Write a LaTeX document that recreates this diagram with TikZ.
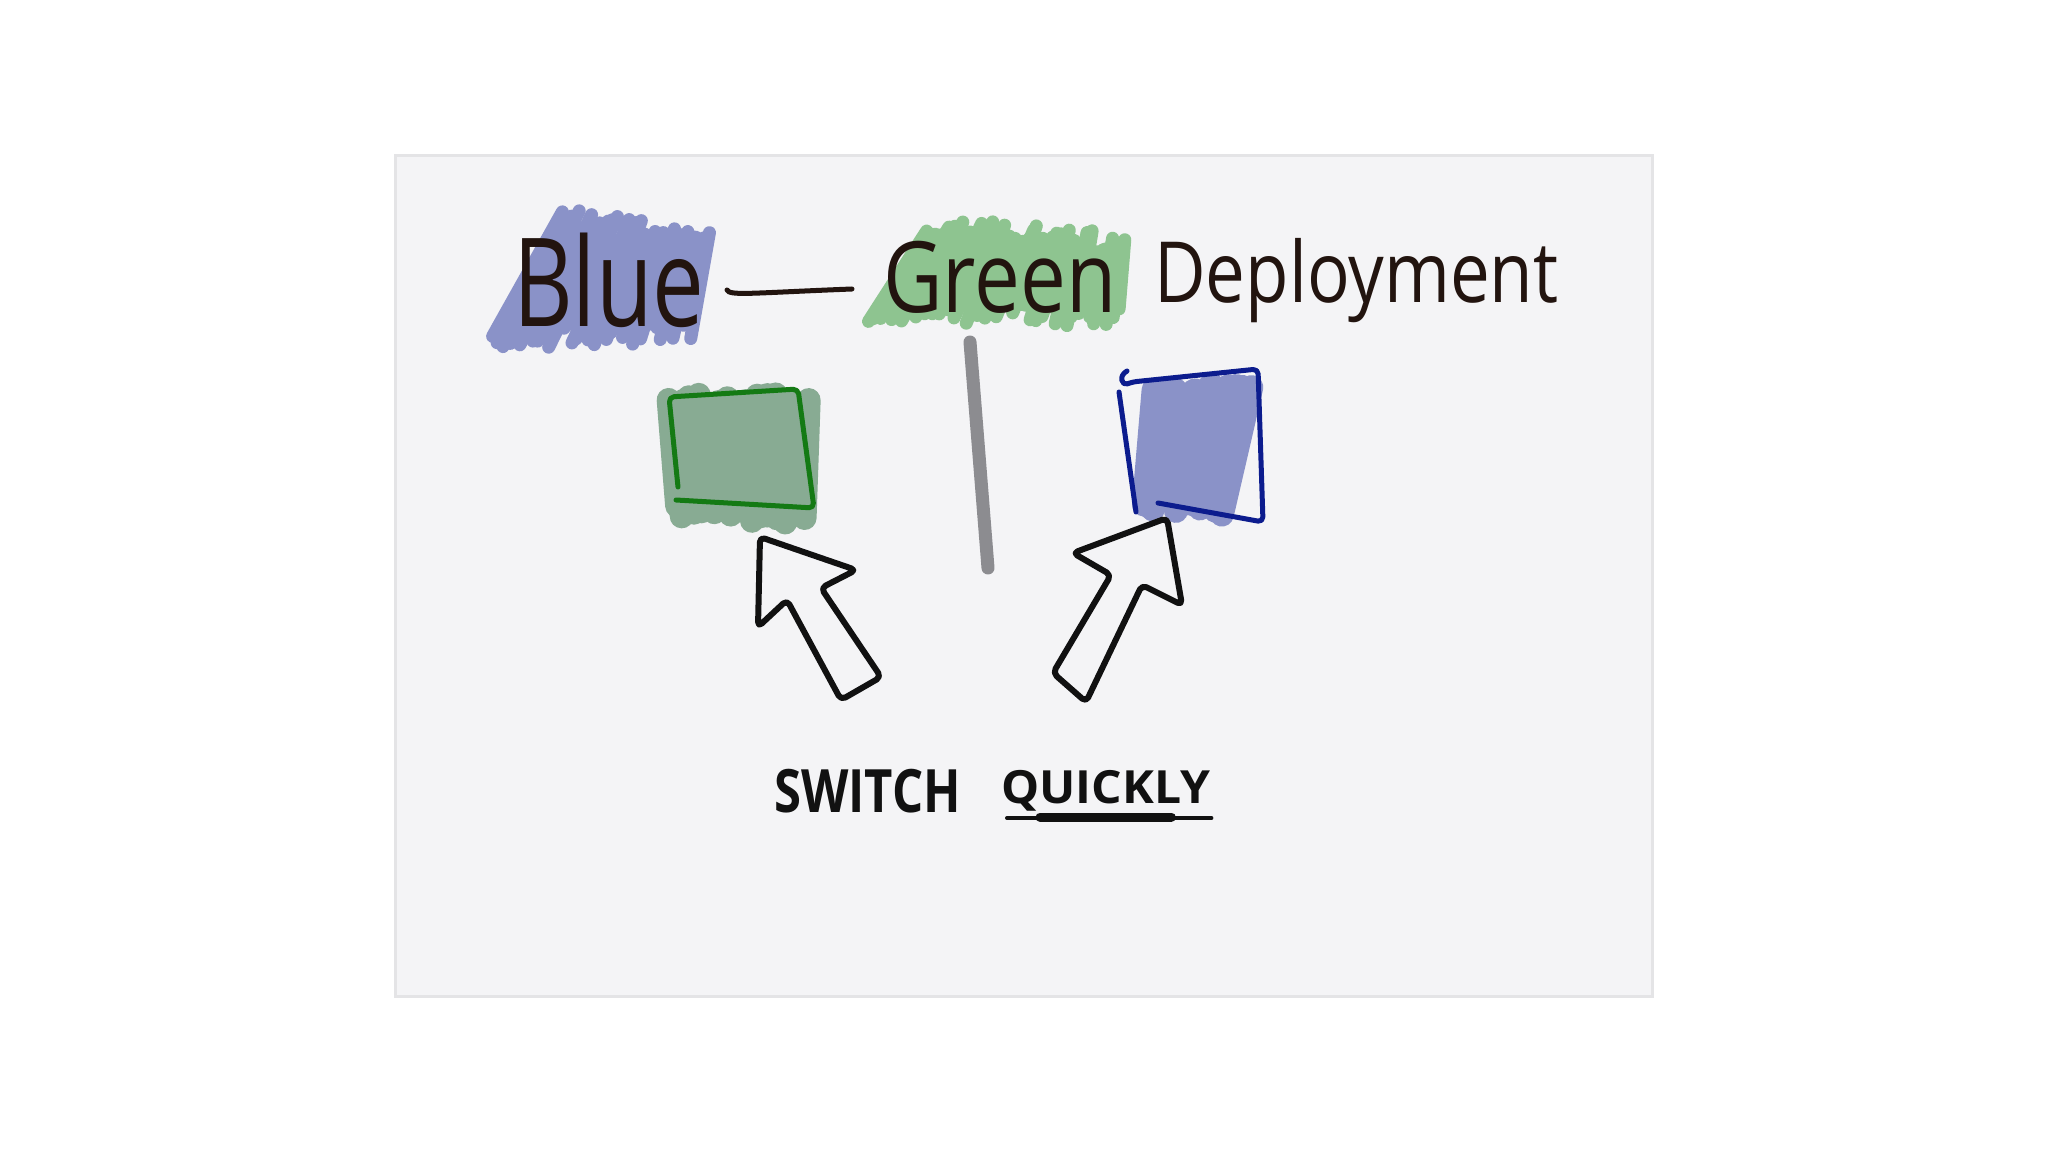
\documentclass[tikz,border=0pt]{standalone}
\usepackage{fontspec}
\setmainfont{Open Sans}
\usetikzlibrary{calc}
\usetikzlibrary{positioning}

\definecolor{panel}{HTML}{F4F4F6}
\definecolor{panelline}{HTML}{E4E4E6}
\definecolor{ink}{HTML}{22140F}
\definecolor{marker}{HTML}{111111}
\definecolor{bluescrib}{HTML}{8A92C8}
\definecolor{greenscrib}{HTML}{8EC490}
\definecolor{boxgreen}{HTML}{88AB93}
\definecolor{boxgreenline}{HTML}{147A14}
\definecolor{boxblueline}{HTML}{0C1C8E}
\definecolor{divider}{HTML}{8C8C90}

\begin{document}
\begin{tikzpicture}
		[x=0.01cm, y=-0.01cm, thick,
		scribble/.style={line width=0.13cm, line cap=round},
		outline/.style={line width=0.05cm, line cap=round, line join=round, rounded corners=0.05cm},
		hand/.style={anchor=base west, inner sep=0pt, text=ink}]
		\useasboundingbox (0,0) rectangle (2048,1152);
		\fill[white] (0,0) rectangle (2048,1152);
		\draw[panelline, fill=panel, line width=0.03cm] (395,156) rectangle (1652,996);
		\pgfmathsetseed{11}
		\fill[bluescrib] (500,332) -- (568,228) -- (704,248) -- (690,328) -- cycle;
		\foreach \i in {0,...,35} {
			\pgfmathsetmacro\t{\i/35}
			\draw[scribble, bluescrib] ({492+198*\t+rand*1.5},{340-10*\t+rand*12}) -- ({562+146*\t+rand*1.5},{218+26*\t+rand*12});
		}
		\fill[greenscrib] (876,306) -- (934,236) -- (1120,248) -- (1112,314) -- cycle;
		\foreach \i in {0,...,43} {
			\pgfmathsetmacro\t{\i/43}
			\draw[scribble, greenscrib] ({868+250*\t+rand*1.5},{312+6*\t+rand*12}) -- ({927+198*\t+rand*1.5},{228+16*\t+rand*12});
		}
		\foreach \i in {0,...,14} {
			\pgfmathsetmacro\t{\i/14}
			\draw[line width=0.24cm, line cap=round, boxgreen] ({672+130*\t+rnd*6},{505+8*\t+rnd*12}) -- ({668+135*\t+rnd*6},{394+rnd*12});
		}
		\foreach \i in {0,...,13} {
			\pgfmathsetmacro\t{\i/13}
			\draw[line width=0.24cm, line cap=round, bluescrib] ({1140+80*\t+rnd*6},{498+6*\t+rnd*12}) -- ({1150+98*\t+rnd*6},{388-8*\t+rnd*12});
		}
		\coordinate (dashl) at (727,290);
		\coordinate (dashr) at (852,289);
		\coordinate (divtop) at (970,342);
		\coordinate (divbot) at (988,568);
		\draw (512,327) node[hand, xscale=0.75, font=\fontsize{35}{40}\selectfont] (blue) {Blue};
		\draw (882,313) node[hand, xscale=0.83, font=\fontsize{28}{32}\selectfont] (green) {Green};
		\draw (1153,303) node[hand, xscale=0.84, font=\fontsize{24}{28}\selectfont] (deploy) {Deployment};
		\draw[ink, line width=0.05cm, line cap=round] (dashl) .. controls (730,296) and (750,293) .. (dashr);
		\draw[outline, boxgreenline] (678,487) -- (669,397) -- (798,389) -- (814,508) -- (676,500);
		\draw[outline, boxblueline] (1127,371) .. controls (1118,376) and (1122,386) .. (1132,382) -- (1258,369) -- (1263,522) -- (1158,503);
		\draw[outline, boxblueline] (1119,392) -- (1136,512);
		\draw[divider, line width=0.13cm, line cap=round] (divtop) -- (divbot);
		\draw[outline, marker, line width=0.06cm] (760,537) -- (856,570) -- (821,588) -- (881,677) -- (841,700) -- (787,600) -- (758,627) -- cycle;
		\draw[outline, marker, line width=0.06cm] (1167,518) -- (1182,605) -- (1142,585) -- (1086,702) -- (1053,673) -- (1111,575) -- (1073,553) -- cycle;
		\draw (773,812) node[hand, text=marker, xscale=0.82, font=\bfseries\fontsize{17}{20}\selectfont] (switch) {SWITCH};
		\draw (1000,803) node[hand, text=marker, xscale=1.05, font=\bfseries\fontsize{13}{16}\selectfont] (quickly) {QUICKLY};
		\draw[marker, line width=0.04cm, line cap=round] ([xshift=0.07cm, yshift=-0.15cm]quickly.base west) -- ([yshift=-0.15cm]quickly.base east);
		\draw[marker, line width=0.09cm, line cap=round] ([xshift=0.4cm, yshift=-0.14cm]quickly.base west) -- ([xshift=-0.4cm, yshift=-0.14cm]quickly.base east);
	\end{tikzpicture}
\end{document}
